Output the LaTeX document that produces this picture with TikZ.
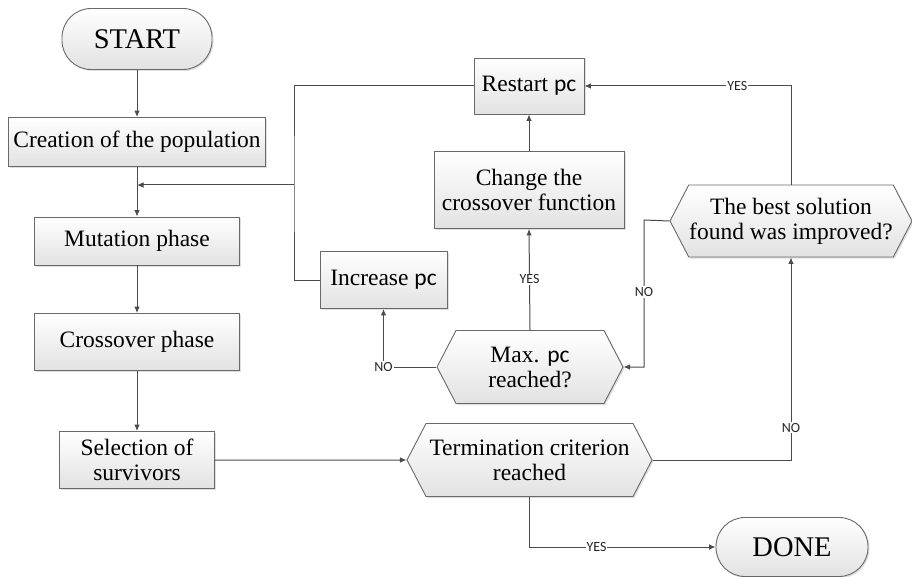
\documentclass[tikz,border=0pt]{standalone}
\usepackage{fontspec}
\setmainfont{Liberation Serif}
\newfontfamily\labelfont{Carlito}
\usetikzlibrary{shapes.symbols,arrows.meta,shadows}

\definecolor{edgegray}{RGB}{105,105,105}
\definecolor{linegray}{RGB}{75,75,75}
\definecolor{boxbottom}{RGB}{226,226,226}

\newcommand{\pcname}{{\labelfont pc}}

\tikzset{
  box/.style={rectangle, draw=edgegray, line width=0.9pt, top color=white, bottom color=boxbottom,
    align=center, inner sep=0pt, font=\fontsize{23.5}{25}\selectfont,
    drop shadow={shadow xshift=1.5pt, shadow yshift=-1.5pt, opacity=0.25, fill=gray}},
  terminal/.style={box, rounded corners=29pt, font=\fontsize{28.5}{30}\selectfont},
  decision/.style={box, signal, signal to=west and east, signal pointer angle=125},
  flow/.style={draw=linegray, line width=1pt, -{Latex[length=6.5pt,width=5.5pt]}},
  link/.style={draw=linegray, line width=1pt},
  answer/.style={font=\labelfont\fontsize{14}{15}\selectfont, fill=white, inner sep=1pt, text=black!85},
}

\begin{document}
\begin{tikzpicture}[x=1pt,y=-1pt]
    \useasboundingbox (0,0) rectangle (912,577);
    % main column
    \node[terminal, minimum width=150pt, minimum height=61pt] (start) at (137,39) {START};
    \node[box, minimum width=257pt, minimum height=49pt] (create) at (137,142) {Creation of the population};
    \node[box, minimum width=205pt, minimum height=48pt] (mutate) at (137,241) {Mutation phase};
    \node[box, minimum width=205pt, minimum height=57pt] (cross) at (137,342) {Crossover phase};
    \node[box, minimum width=155pt, minimum height=57pt] (select) at (137,460) {Selection of\\survivors};
    % decisions and updates
    \node[decision, minimum width=245pt, minimum height=73pt] (term) at (529.5,460) {Termination criterion\\reached};
    \node[terminal, minimum width=152pt, minimum height=59pt] (done) at (792,547) {DONE};
    \node[decision, minimum width=242pt, minimum height=72pt] (best) at (791,221) {The best solution\\found was improved?};
    \node[decision, minimum width=186pt, minimum height=73pt] (maxpc) at (530,367) {Max. \pcname\\reached?};
    \node[box, minimum width=127pt, minimum height=57pt] (increase) at (383.5,280) {Increase \pcname};
    \node[box, minimum width=190pt, minimum height=77pt] (change) at (529,190) {Change the\\crossover function};
    \node[box, minimum width=110pt, minimum height=56pt] (restart) at (529,86) {Restart \pcname};
    \coordinate (join) at (137,185);
    \coordinate (loop) at (294,185);
    \coordinate (nobend) at (644,220);

    \draw[flow] (start) -- (create);
    \draw[flow] (create) -- (mutate);
    \draw[flow] (mutate) -- (cross);
    \draw[flow] (cross) -- (select);
    \draw[flow] (select) -- (term);
    \draw[flow] (term.east) -| node[answer, pos=0.58] {NO} (best.south);
    \draw[flow] (term.south) |- node[answer, pos=0.68] {YES} (done.west);
    \draw[flow] (best.north) |- node[answer, pos=0.63] {YES} (restart.east);
    \draw[flow] (best.west) -- (nobend) |- node[answer, pos=0.245] {NO} (maxpc.east);
    \draw[flow] (maxpc.west) -| node[answer, pos=0.5] {NO} (increase.south);
    \draw[flow] (maxpc.north) -- node[answer] {YES} (change.south);
    \draw[flow] (change) -- (restart);
    \draw[link] (restart.west) -| (loop) |- (increase.west);
    \draw[flow] (loop) -- (join);
\end{tikzpicture}
\end{document}
